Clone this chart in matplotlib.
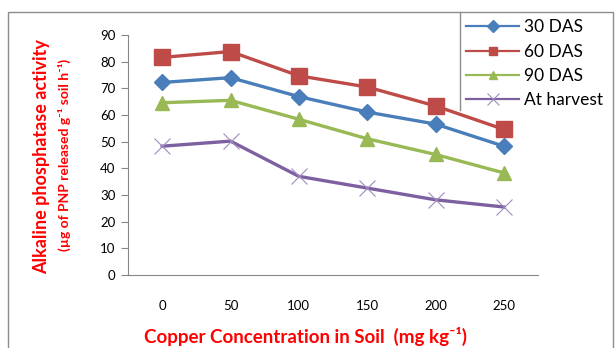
import matplotlib
matplotlib.use('Agg')
import matplotlib.pyplot as plt
from matplotlib.lines import Line2D
from matplotlib.patches import Rectangle

plt.rcParams['font.family'] = ['Lato', 'DejaVu Sans']

# data
copper = [0, 50, 100, 150, 200, 250]
das30 = [72.2, 74.0, 66.9, 61.1, 56.6, 48.3]
das60 = [81.6, 83.8, 74.7, 70.5, 63.4, 54.6]
das90 = [64.6, 65.5, 58.4, 51.1, 45.2, 38.3]
harvest = [48.3, 50.2, 37.0, 32.6, 28.2, 25.5]
series_names = ['30 DAS', '60 DAS', '90 DAS', 'At harvest']

W, H = 616, 348
fig = plt.figure(figsize=(W / 100, H / 100), dpi=100)

# outer chart border
fig.patches.append(Rectangle((8 / W, -0.05), (613 - 8) / W, 1 - 12 / H + 0.05,
                             transform=fig.transFigure, fill=False,
                             edgecolor='#8c8c8c', linewidth=1.0))

ax = fig.add_axes([128 / W, 1 - 275 / H, (538 - 128) / W, (275 - 35) / H])
xpos = list(range(len(copper)))

styles = [
    (das30, '#4A7EBB', 'D', 8.5),
    (das60, '#BE4B48', 's', 11),
    (das90, '#98B954', '^', 10),
    (harvest, '#7D60A0', 'x', 11),
]
handles = []
for (vals, col, mk, ms), name in zip(styles, series_names):
    if mk == 'x':
        ax.plot(xpos, vals, color=col, lw=2.4, marker=mk, ms=ms,
                mew=0.8, mec='#9f8cc0', zorder=3)
    else:
        ax.plot(xpos, vals, color=col, lw=2.4, marker=mk, ms=ms,
                mec=col, zorder=3)
    handles.append(Line2D([], [], color=col, lw=1.6, marker=mk,
                          ms=6 if mk != 'x' else 8, mec=col if mk != 'x' else '#9f8cc0',
                          mew=1 if mk != 'x' else 0.8, label=name))

ax.set_xlim(-0.5, 5.5)
ax.set_ylim(0, 90)
ax.set_yticks(range(0, 91, 10))
ax.set_xticks(xpos)
ax.set_xticklabels([str(c) for c in copper])
for s in ['top', 'right']:
    ax.spines[s].set_visible(False)
for s in ['left', 'bottom']:
    ax.spines[s].set_color('#868686')
ax.tick_params(axis='y', direction='out', length=5, color='#868686',
               labelsize=9.5, pad=4)
ax.tick_params(axis='x', length=0, labelsize=9.5, pad=18)

fig.text(306 / W, 1 - 336 / H, 'Copper Concentration in Soil  (mg kg⁻¹)',
         color='red', fontsize=13.5, fontweight='bold', ha='center', va='center')

fig.text(42 / W, 1 - 157 / H, 'Alkaline phosphatase activity', color='red',
         fontsize=13, fontweight='bold', rotation=90, ha='center', va='center')
fig.text(64 / W, 1 - 155 / H, '(µg of PNP released g⁻¹ soil h⁻¹)',
         color='red', fontsize=10, fontweight='bold', rotation=90,
         ha='center', va='center')

leg = fig.legend(handles=handles, loc='upper left',
                 bbox_to_anchor=(463 / W, 1 - 16 / H), frameon=False,
                 fontsize=12.5, handlelength=3.0, handletextpad=0.3,
                 labelspacing=0.47, borderaxespad=0, borderpad=0.2)

# legend box left edge
fig.add_artist(Line2D([460 / W, 460 / W], [1 - 12 / H, 1 - 110 / H],
                      transform=fig.transFigure, color='#8c8c8c', lw=1.0))

fig.savefig('out.png', dpi=100)
